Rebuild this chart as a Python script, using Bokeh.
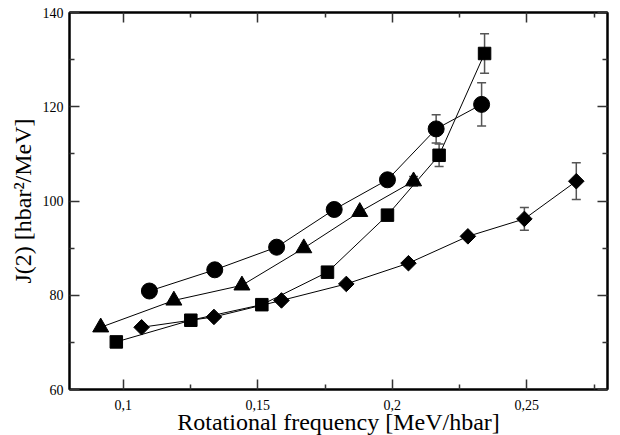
import math
from bokeh.plotting import figure
from bokeh.models import (LinearAxis, FixedTicker, CustomJSTickFormatter, ColumnDataSource,
                          Whisker, TeeHead, Range1d)
from bokeh.embed import file_html
from bokeh.resources import INLINE

# ---- data ----
circ_x = [0.1097, 0.1340, 0.1570, 0.1784, 0.1982, 0.2163, 0.2332]
circ_y = [80.9, 85.4, 90.2, 98.2, 104.5, 115.3, 120.5]
circ_err = [0.0, 0.0, 0.0, 0.0, 0.0, 3.0, 4.6]

tri_x = [0.0916, 0.1188, 0.1441, 0.1671, 0.1879, 0.2079]
tri_y = [73.2, 78.9, 82.1, 90.0, 97.7, 104.2]
tri_err = [0.0, 0.0, 0.0, 0.0, 0.0, 1.0]

sq_x = [0.0974, 0.1251, 0.1515, 0.1759, 0.1982, 0.2174, 0.2343]
sq_y = [70.1, 74.7, 78.0, 84.9, 97.0, 109.7, 131.3]
sq_err = [0.0, 0.7, 0.7, 0.0, 0.0, 2.4, 4.2]

dia_x = [0.1068, 0.1337, 0.1588, 0.1829, 0.2060, 0.2281, 0.2491, 0.2684]
dia_y = [73.2, 75.4, 78.9, 82.4, 86.8, 92.5, 96.2, 104.2]
dia_err = [0.0, 0.0, 0.0, 0.0, 0.0, 0.0, 2.4, 3.9]

x_major = [0.1, 0.15, 0.2, 0.25]
x_minor = [0.125, 0.175, 0.225, 0.275]
y_major = [60, 80, 100, 120, 140]
y_minor = [70, 90, 110, 130]

x_title = "Rotational frequency [MeV/hbar]"
y_title = "J(2) [hbar²/MeV]"

FONT = "'Liberation Serif', 'Times New Roman', serif"

p = figure(frame_width=538, frame_height=377, output_backend="svg", toolbar_location=None,
           x_range=Range1d(0.08, 0.28), y_range=Range1d(60, 140),
           x_axis_location=None, y_axis_location=None,
           min_border_left=69, min_border_right=5, min_border_top=12, min_border_bottom=40)
p.grid.visible = False
p.outline_line_color = "black"
p.outline_line_width = 2
p.background_fill_color = "white"
p.border_fill_color = "white"

xfmt = CustomJSTickFormatter(code="""
    let s = tick.toFixed(2);
    if (s.endsWith('0')) s = s.slice(0, -1);
    return s.replace('.', ',');
""")
yfmt = CustomJSTickFormatter(code="return tick.toFixed(0);")


def make_axis(ticks, minor, formatter, label=None):
    ax = LinearAxis(ticker=FixedTicker(ticks=ticks, minor_ticks=minor), formatter=formatter)
    ax.axis_line_color = "black"
    ax.axis_line_width = 2
    ax.major_tick_in = 10
    ax.major_tick_out = 0
    ax.minor_tick_in = 5
    ax.minor_tick_out = 0
    ax.major_tick_line_color = "#333333"
    ax.major_tick_line_width = 1.5
    ax.minor_tick_line_color = "#333333"
    ax.minor_tick_line_width = 1.5
    ax.major_label_text_font = FONT
    ax.major_label_text_font_size = "14px"
    ax.major_label_text_color = "black"
    if label:
        ax.axis_label = label
        ax.axis_label_text_font = FONT
        ax.axis_label_text_font_size = "24px"
        ax.axis_label_text_font_style = "normal"
        ax.axis_label_text_color = "black"
    return ax


xb = make_axis(x_major, x_minor, xfmt, x_title)
xb.major_label_standoff = 10
xb.axis_label_standoff = -4
p.add_layout(xb, "below")

yl = make_axis(y_major, y_minor, yfmt, y_title)
yl.major_label_standoff = 6
yl.axis_label_standoff = 4
p.add_layout(yl, "left")

xt = make_axis(x_major, x_minor, CustomJSTickFormatter(code="return '';"))
xt.major_label_standoff = 0
xt.major_label_text_font_size = "0px"
p.add_layout(xt, "above")

yr = make_axis(y_major, y_minor, CustomJSTickFormatter(code="return '';"))
yr.major_label_standoff = 0
yr.major_label_text_font_size = "0px"
p.add_layout(yr, "right")


def add_err(xs, ys, es):
    idx = [i for i, e in enumerate(es) if e > 0]
    src = ColumnDataSource(dict(x=[xs[i] for i in idx],
                                lo=[ys[i] - es[i] for i in idx],
                                hi=[ys[i] + es[i] for i in idx]))
    w = Whisker(source=src, base="x", upper="hi", lower="lo", dimension="height",
                line_color="#555555", line_width=1.5,
                upper_head=TeeHead(size=9, line_color="#555555", line_width=1.5),
                lower_head=TeeHead(size=9, line_color="#555555", line_width=1.5))
    p.add_layout(w)


for xs, ys, es in [(circ_x, circ_y, circ_err), (tri_x, tri_y, tri_err),
                   (sq_x, sq_y, sq_err), (dia_x, dia_y, dia_err)]:
    add_err(xs, ys, es)
    p.line(xs, ys, line_color="black", line_width=1)

p.scatter(circ_x, circ_y, marker="circle", size=16, fill_color="black", line_color="black")
p.scatter(tri_x, tri_y, marker="triangle", size=16, fill_color="black", line_color="black")
p.scatter(sq_x, sq_y, marker="square", size=12.5, fill_color="black", line_color="black")
p.scatter(dia_x, dia_y, marker="square", size=11, angle=math.pi / 4,
          fill_color="black", line_color="black")

open("out.html", "w").write(file_html(p, INLINE))
